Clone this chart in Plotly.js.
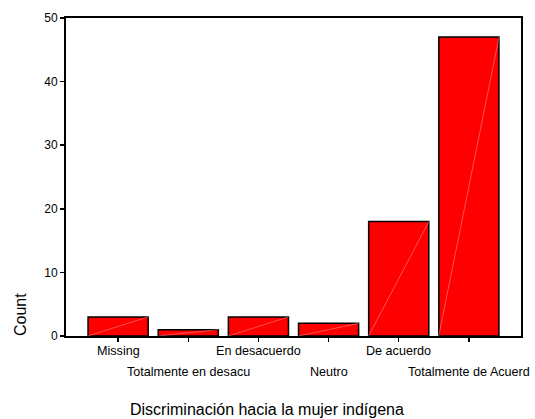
<!DOCTYPE html>
<html>
<head>
<meta charset="utf-8">
<script src="https://cdn.plot.ly/plotly-3.0.1.min.js"></script>
<style>html,body{margin:0;padding:0;background:#fff;}#chart{width:535px;height:419px;}</style>
</head>
<body>
<div id="chart"></div>
<script>
const categories = ["Missing", "Totalmente en desacu", "En desacuerdo", "Neutro", "De acuerdo", "Totalmente de Acuerd"];
const counts = [3, 1, 3, 2, 18, 47];
const yTicks = [0, 10, 20, 30, 40, 50];
const xTitle = "Discriminación hacia la mujer indígena";
const yTitle = "Count";

const idx = categories.map((_, i) => i);
const font = "Arial, 'Liberation Sans', sans-serif";

const traces = [{
  type: "bar",
  x: idx,
  y: counts,
  marker: {color: "#ff0000", line: {color: "#000", width: 1.5}},
  hoverinfo: "skip"
}];

// faint diagonal artifact inside each bar
const halfW = 0.43;
idx.forEach((i) => {
  traces.push({
    type: "scatter", mode: "lines",
    x: [i - halfW, i + halfW], y: [0, counts[i]],
    line: {color: "rgba(255,170,170,0.8)", width: 0.6},
    hoverinfo: "skip", showlegend: false
  });
});

const annotations = categories.map((c, i) => ({
  x: i, xref: "x", y: 0, yref: "paper",
  text: c, showarrow: false,
  xanchor: "center", yanchor: "top",
  yshift: i % 2 === 0 ? -6 : -27,
  font: {family: font, size: 12.6, color: "#000"}
}));
annotations.push({
  x: 0.441, xref: "paper", y: 0, yref: "paper",
  text: xTitle, showarrow: false, xanchor: "center", yanchor: "top",
  yshift: -63, font: {family: font, size: 16, color: "#000"}
});
annotations.push({
  x: 0, xref: "paper", y: 21 / 318, yref: "paper",
  text: yTitle, showarrow: false, textangle: -90,
  xanchor: "center", yanchor: "middle", xshift: -46,
  font: {family: font, size: 16, color: "#000"}
});

const layout = {
  width: 535, height: 419,
  margin: {l: 66, r: 14, t: 18, b: 83},
  paper_bgcolor: "#fff", plot_bgcolor: "#fff",
  showlegend: false,
  bargap: 0.143,
  xaxis: {
    range: [-0.743, 5.743],
    tickmode: "array", tickvals: idx, showticklabels: false,
    ticks: "outside", ticklen: 4, tickwidth: 1.5, tickcolor: "#000",
    showline: true, linecolor: "#000", linewidth: 2, mirror: true,
    showgrid: false, zeroline: false, fixedrange: true
  },
  yaxis: {
    range: [0, 50],
    tickmode: "array", tickvals: yTicks,
    ticks: "outside", ticklen: 4, tickwidth: 1.5, tickcolor: "#000",
    tickfont: {family: font, size: 12, color: "#000"},
    showline: true, linecolor: "#000", linewidth: 2, mirror: true,
    showgrid: false, zeroline: false, fixedrange: true
  },
  annotations: annotations
};

Plotly.newPlot("chart", traces, layout, {displayModeBar: false, staticPlot: true});
</script>
</body>
</html>
